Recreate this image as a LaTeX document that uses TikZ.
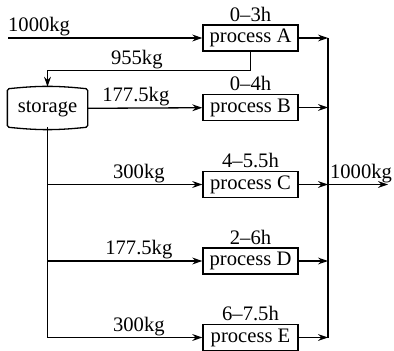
\documentclass[tikz,border=0pt]{standalone}
\usepackage{fontspec}
\setmainfont{Liberation Serif}
\usetikzlibrary{arrows.meta,positioning}
\begin{document}
\begin{tikzpicture}[
  x=0.5pt, y=-0.5pt,
  font=\rmfamily\fontsize{10.3pt}{12pt}\selectfont,
  line width=0.65pt,
  box/.style={draw, minimum width=47.5pt, minimum height=13pt, inner sep=0pt},
  arrow/.style={-{Stealth[length=5pt,width=3.4pt]}},
  lbl/.style={above, inner sep=0.6pt},
  time/.style={inner sep=1.2pt}
]
\useasboundingbox (0,0) rectangle (394,351);

% storage tank
\node[minimum width=39.5pt, minimum height=21pt, inner sep=0pt] at (47.5,108.5) (storage) {storage};
\draw[rounded corners=0.8pt] ([yshift=-1pt]storage.north west) to[bend left=6] ([yshift=-1pt]storage.north east)
  -- ([yshift=1.5pt]storage.south east) to[bend left=6] ([yshift=1.5pt]storage.south west) -- cycle;

% process boxes
\node[box] at (250.5,38) (procA) {process A};
\node[box] at (250.5,107.5) (procB) {process B};
\node[box] at (250.5,184.5) (procC) {process C};
\node[box] at (250.5,261) (procD) {process D};
\node[box] at (250.5,337.5) (procE) {process E};

\node[time, above=0pt of procA] (tA) {0--3h};
\node[time, above=0pt of procB] (tB) {0--4h};
\node[time, above=0pt of procC] (tC) {4--5.5h};
\node[time, above=0pt of procD] (tD) {2--6h};
\node[time, above=0pt of procE] (tE) {6--7.5h};

% ends of the free lines
\coordinate (feed) at (8,38);
\coordinate (outlet) at (388,184.5);
\coordinate (mergeTop) at (328,38);
\coordinate (mergeBot) at (328,337.5);
\coordinate (mergeOut) at (mergeBot |- outlet);

\draw[arrow] (feed) -- node[lbl, pos=0.16] {1000kg} (procA);
\draw[arrow] (procA.south) -- ++(0,19) -| node[lbl, pos=0.28] {955kg} (storage.north);
\draw[arrow] (storage) -- node[lbl, pos=0.42] {177.5kg} (procB);

\coordinate (jC) at (storage.south |- procC.west);
\coordinate (jD) at (storage.south |- procD.west);
\coordinate (jE) at (storage.south |- procE.west);
\draw ([yshift=1.5pt]storage.south) -- (jE);
\draw[arrow] (jC) -- node[lbl, pos=0.59] {300kg} (procC);
\draw[arrow] (jD) -- node[lbl, pos=0.59] {177.5kg} (procD);
\draw[arrow] (jE) -- node[lbl, pos=0.59] {300kg} (procE);

% collecting line
\draw (mergeTop) -- (mergeBot);
\foreach \p in {procA,procB,procC,procD,procE}
  \draw[arrow] (\p.east) -- (\p.east -| mergeTop);
\draw[arrow] (mergeOut) -- node[lbl, pos=0.55] {1000kg} (outlet);
\end{tikzpicture}
\end{document}
